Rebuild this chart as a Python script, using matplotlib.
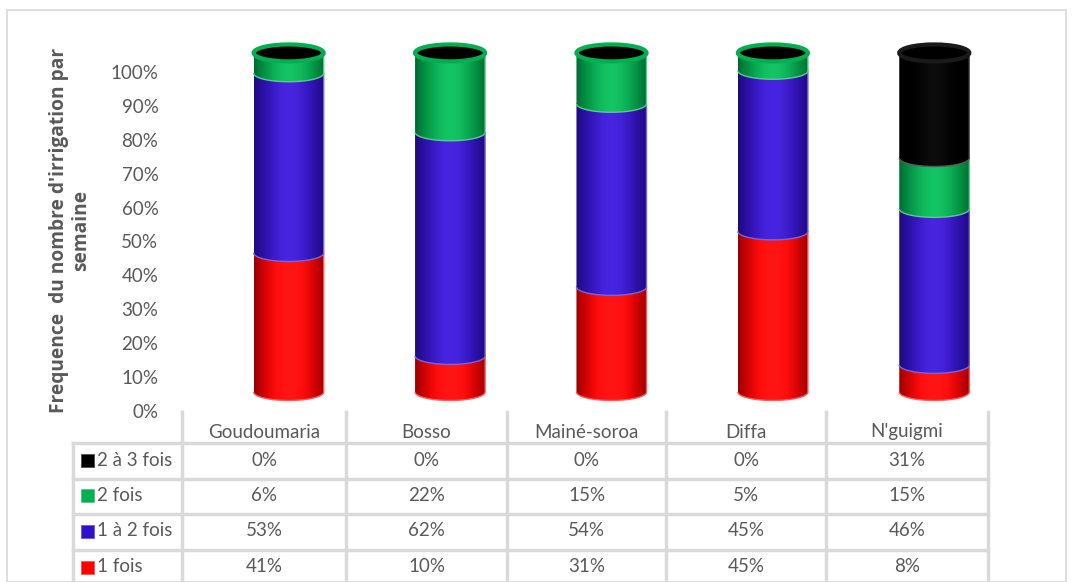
import numpy as np
import matplotlib.pyplot as plt
from matplotlib.path import Path
from matplotlib.patches import PathPatch, Ellipse, Rectangle
from matplotlib.colors import to_rgb
from matplotlib.font_manager import FontProperties

plt.rcParams['font.family'] = ['Lato', 'DejaVu Sans']

communes = ["Goudoumaria", "Bosso", "Mainé-soroa", "Diffa", "N'guigmi"]
series = ["1 fois", "1 à 2 fois", "2 fois", "2 à 3 fois"]
une_fois = [41, 10, 31, 45, 8]
une_a_deux = [53, 62, 54, 45, 46]
deux_fois = [6, 22, 15, 5, 15]
deux_a_trois = [0, 0, 0, 0, 31]
couleurs = ["#FF0000", "#3311CC", "#00B050", "#000000"]

vals = np.array([une_fois, une_a_deux, deux_fois, deux_a_trois], dtype=float)
pct = vals / vals.sum(axis=0) * 100   # 100% empile

W, H = 1073, 582
fig = plt.figure(figsize=(W / 100, H / 100), dpi=100)
gris = "#595959"
ligne = "#D9D9D9"
fs = 13.5

# cadre exterieur
fig.patches.append(Rectangle((7 / W, 0), (1066 - 7) / W, 1 - 10 / H, transform=fig.transFigure,
                             fill=False, edgecolor=ligne, lw=1.2))

ax = fig.add_axes([182 / W, 1 - 411 / H, (989 - 182) / W, (411 - 38) / H])
ax.set_xlim(-0.5, 4.5)
ax.set_ylim(0, 110)
for s in ax.spines.values():
    s.set_visible(False)
ax.set_xticks([])
ax.set_yticks(range(0, 101, 10))
ax.set_yticklabels([f"{v}%" for v in range(0, 101, 10)], color=gris, fontsize=fs)
ax.tick_params(axis='y', length=0, pad=17)

# decalage "3D" du cylindre
dx, dy = 0.161, 5.6
a = 0.217   # demi-largeur
e = 2.5     # demi-hauteur de l'ellipse


def degrade(c, n=200):
    r = np.array(to_rgb(c))
    u = np.linspace(0, 1, n)
    f = 0.5 + 0.5 * np.sin(np.pi * (0.03 + 0.94 * u)) ** 0.7
    img = np.clip(r[None, :] * f[:, None] + 0.08 * f[:, None] ** 8, 0, 1)
    if c == "#000000":
        img = np.zeros((n, 3)) + 0.05 * np.sin(np.pi * u)[:, None] ** 4
    return img[None, :, :]


def clair(c, k=0.35):
    r = np.array(to_rgb(c))
    return tuple(r + (1 - r) * k)


th = np.linspace(np.pi, 2 * np.pi, 60)
z = 2
for i in range(len(communes)):
    cx = i + dx
    bas = dy
    haut_col = None
    for j in range(len(series)):
        h = pct[j, i]
        if h <= 0:
            continue
        b, t = bas, bas + h
        xs = list(cx + a * np.cos(th)) + [cx + a, cx - a]
        ys = list(b + e * np.sin(th)) + [t, t]
        path = Path(np.column_stack([xs, ys]), closed=False)
        patch = PathPatch(path, facecolor='none', edgecolor=clair(couleurs[j]), lw=1.0, zorder=z + 1)
        ax.add_patch(patch)
        im = ax.imshow(degrade(couleurs[j]), extent=[cx - a, cx + a, b - e, t],
                       aspect='auto', zorder=z, interpolation='bilinear')
        im.set_clip_path(patch)
        z += 2
        bas = t
        haut_col = couleurs[j]
    rim = haut_col if haut_col != "#000000" else "#1a1a1a"
    ax.add_patch(Ellipse((cx, bas), 2 * a, 2 * e, facecolor="#000000", edgecolor=rim,
                         lw=3, zorder=z + 1))
    z += 2
ax.set_xlim(-0.5, 4.5)
ax.set_ylim(0, 110)

# axe des y
fp = FontProperties(family=['Open Sans', 'DejaVu Sans'], weight='bold', size=12.5)
lab = fig.text(70 / W, 1 - 230 / H, "Frequence  du nombre d'irrigation par\nsemaine", rotation=90,
               ha='center', va='center', multialignment='center', fontproperties=fp,
               color=gris, linespacing=1.15)
# ajuster la taille pour que le titre couvre ~365 px en hauteur
fig.canvas.draw()
bb = lab.get_window_extent()
k = min(max(365 / bb.height, 0.7), 1.6)
lab.set_fontsize(12.5 * k)

# tableau de donnees
cols = [182, 346, 507, 666, 826, 988]
rows = [443, 479, 514, 550, 586]
for x in cols:
    fig.add_artist(plt.Line2D([x / W, x / W], [1 - 412 / H, 0], transform=fig.transFigure,
                              color=ligne, lw=2.5))
fig.add_artist(plt.Line2D([73 / W, 73 / W], [1 - 443 / H, 0], transform=fig.transFigure,
                          color=ligne, lw=2.5))
for y in rows[:-1]:
    fig.add_artist(plt.Line2D([73 / W, 988 / W], [1 - y / H, 1 - y / H], transform=fig.transFigure,
                              color=ligne, lw=2.5))
for i, c in enumerate(communes):
    xc = (cols[i] + cols[i + 1]) / 2
    fig.text(xc / W, 1 - 432 / H, c, ha='center', va='center', fontsize=fs, color=gris)
ordre = [3, 2, 1, 0]
for r, j in enumerate(ordre):
    yc = (rows[r] + rows[r + 1]) / 2 - 1
    fig.patches.append(Rectangle((81 / W, 1 - (yc + 6.5) / H), 12.5 / W, 13 / H,
                                 transform=fig.transFigure, facecolor=couleurs[j],
                                 edgecolor=clair(couleurs[j], 0.3), lw=0.6))
    fig.text(97 / W, 1 - yc / H, series[j], ha='left', va='center', fontsize=fs, color=gris)
    for i in range(len(communes)):
        xc = (cols[i] + cols[i + 1]) / 2
        fig.text(xc / W, 1 - yc / H, f"{int(vals[j, i])}%", ha='center', va='center',
                 fontsize=fs, color=gris)

fig.savefig("out.png", dpi=100)
